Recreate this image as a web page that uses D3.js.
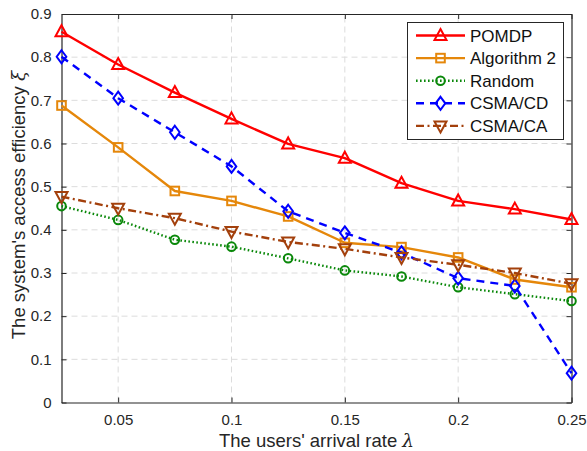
<!DOCTYPE html>
<html>
<head>
<meta charset="utf-8">
<script src="https://cdn.jsdelivr.net/npm/d3@7"></script>
<style>
  html, body { margin: 0; padding: 0; background: #fff; }
  svg { display: block; font-family: "Liberation Sans", Arial, Helvetica, sans-serif; }
</style>
</head>
<body>
<svg id="chart" width="587" height="451"></svg>
<script>
// Arrival rates on the x axis
const lambdas = [0.025, 0.05, 0.075, 0.1, 0.125, 0.15, 0.175, 0.2, 0.225, 0.25];

// Access efficiency per scheme
const pomdp   = [0.859, 0.783, 0.718, 0.657, 0.599, 0.566, 0.508, 0.467, 0.448, 0.424];
const algo2   = [0.688, 0.591, 0.490, 0.467, 0.431, 0.370, 0.360, 0.336, 0.285, 0.267];
const random  = [0.455, 0.423, 0.377, 0.361, 0.334, 0.306, 0.292, 0.267, 0.251, 0.235];
const csmaCD  = [0.801, 0.705, 0.626, 0.547, 0.443, 0.393, 0.347, 0.288, 0.270, 0.068];
const csmaCA  = [0.477, 0.450, 0.427, 0.396, 0.372, 0.356, 0.336, 0.319, 0.300, 0.275];

const xTicks = [0.05, 0.1, 0.15, 0.2, 0.25];
const xTickLabels = ["0.05", "0.1", "0.15", "0.2", "0.25"];
const yTicks = [0, 0.1, 0.2, 0.3, 0.4, 0.5, 0.6, 0.7, 0.8, 0.9];
const yTickLabels = ["0", "0.1", "0.2", "0.3", "0.4", "0.5", "0.6", "0.7", "0.8", "0.9"];

const seriesNames = ["POMDP", "Algorithm 2", "Random", "CSMA/CD", "CSMA/CA"];

const series = [
  { name: seriesNames[0], values: pomdp,  color: "#ff0000", dash: null,          marker: "triUp" },
  { name: seriesNames[1], values: algo2,  color: "#e5870a", dash: null,          marker: "square" },
  { name: seriesNames[2], values: random, color: "#0a880a", dash: "1.6,2.4",     marker: "circle" },
  { name: seriesNames[3], values: csmaCD, color: "#0000ff", dash: "8,6",         marker: "diamond" },
  { name: seriesNames[4], values: csmaCA, color: "#a3400c", dash: "8,3.5,2,3.5", marker: "triDown" }
];

const svg = d3.select("#chart");
const margin = { left: 61.5, right: 15.5, top: 14, bottom: 48.5 };
const W = 587, H = 451;
const x = d3.scaleLinear().domain([0.025, 0.25]).range([margin.left, W - margin.right]);
const y = d3.scaleLinear().domain([0, 0.9]).range([H - margin.bottom, margin.top]);

const axisColor = "#262626";
const x0 = x.range()[0], x1 = x.range()[1];
const y0 = y.range()[0], y1 = y.range()[1];

// grid lines
const grid = svg.append("g").attr("class", "grid");
grid.selectAll("line.gx").data(xTicks.filter(t => t < 0.25)).join("line")
  .attr("x1", d => x(d)).attr("x2", d => x(d))
  .attr("y1", y0).attr("y2", y1)
  .attr("stroke", "#dcdcdc").attr("stroke-width", 1).attr("stroke-dasharray", "6,4");
grid.selectAll("line.gy").data(yTicks.filter(t => t > 0 && t < 0.9)).join("line")
  .attr("x1", x0).attr("x2", x1)
  .attr("y1", d => y(d)).attr("y2", d => y(d))
  .attr("stroke", "#dcdcdc").attr("stroke-width", 1).attr("stroke-dasharray", "6,4");

// axes (ticks point inward)
const fmtX = d => xTickLabels[xTicks.indexOf(d)];
const fmtY = d => yTickLabels[yTicks.indexOf(d)];

function styleAxis(g) {
  g.selectAll("path.domain").attr("stroke", axisColor).attr("stroke-width", 1.2);
  g.selectAll(".tick line").attr("stroke", axisColor).attr("stroke-width", 1);
  g.selectAll(".tick text").attr("fill", axisColor).style("font-size", "15px")
    .style("font-family", "'Liberation Sans', Arial, sans-serif");
}

svg.append("g").attr("transform", `translate(0,${y0})`)
  .call(d3.axisBottom(x).tickValues(xTicks).tickFormat(fmtX).tickSizeInner(-5).tickSizeOuter(0).tickPadding(12))
  .call(styleAxis);
svg.append("g").attr("transform", `translate(0,${y1})`)
  .call(d3.axisTop(x).tickValues(xTicks).tickFormat("").tickSizeInner(-5).tickSizeOuter(0))
  .call(styleAxis);
svg.append("g").attr("transform", `translate(${x0},0)`)
  .call(d3.axisLeft(y).tickValues(yTicks).tickFormat(fmtY).tickSizeInner(-5).tickSizeOuter(0).tickPadding(10))
  .call(styleAxis);
svg.append("g").attr("transform", `translate(${x1},0)`)
  .call(d3.axisRight(y).tickValues(yTicks).tickFormat("").tickSizeInner(-5).tickSizeOuter(0))
  .call(styleAxis);

// markers
function drawMarker(g, type, cx, cy, color) {
  const sw = 2;
  if (type === "triUp") {
    g.append("path").attr("d", `M${cx},${cy - 6.5}L${cx + 6},${cy + 4.5}L${cx - 6},${cy + 4.5}Z`)
      .attr("fill", "none").attr("stroke", color).attr("stroke-width", sw);
  } else if (type === "triDown") {
    g.append("path").attr("d", `M${cx},${cy + 6.5}L${cx + 6},${cy - 4.5}L${cx - 6},${cy - 4.5}Z`)
      .attr("fill", "none").attr("stroke", color).attr("stroke-width", sw);
  } else if (type === "square") {
    g.append("rect").attr("x", cx - 4.3).attr("y", cy - 4.3).attr("width", 8.6).attr("height", 8.6)
      .attr("fill", "none").attr("stroke", color).attr("stroke-width", sw);
  } else if (type === "circle") {
    g.append("circle").attr("cx", cx).attr("cy", cy).attr("r", 4.3)
      .attr("fill", "none").attr("stroke", color).attr("stroke-width", sw);
  } else if (type === "diamond") {
    g.append("path").attr("d", `M${cx},${cy - 6.5}L${cx + 4.8},${cy}L${cx},${cy + 6.5}L${cx - 4.8},${cy}Z`)
      .attr("fill", "none").attr("stroke", color).attr("stroke-width", sw);
  }
}

const line = d3.line().x(d => x(d[0])).y(d => y(d[1]));

const plot = svg.append("g").attr("class", "series");
series.forEach(s => {
  const pts = lambdas.map((l, i) => [l, s.values[i]]);
  const g = plot.append("g");
  g.append("path").datum(pts).attr("d", line)
    .attr("fill", "none").attr("stroke", s.color).attr("stroke-width", 2.4)
    .attr("stroke-dasharray", s.dash).attr("stroke-linejoin", "round");
  pts.forEach(p => drawMarker(g, s.marker, x(p[0]), y(p[1]), s.color));
});

// axis titles
svg.append("text")
  .attr("x", (x0 + x1) / 2).attr("y", 447)
  .attr("text-anchor", "middle").attr("fill", axisColor).style("font-size", "18.5px")
  .html("The users' arrival rate <tspan font-style='italic' font-family='DejaVu Serif, serif'>λ</tspan>");

svg.append("text")
  .attr("transform", `translate(25,205) rotate(-90)`)
  .attr("text-anchor", "middle").attr("fill", axisColor).style("font-size", "18.5px")
  .html("The system's access efficiency <tspan font-style='italic' font-family='DejaVu Serif, serif'>ξ</tspan>");

// legend
const lg = svg.append("g").attr("class", "legend");
const lx = 407.5, ly = 22.5, lw = 156, lh = 117;
lg.append("rect").attr("x", lx).attr("y", ly).attr("width", lw).attr("height", lh)
  .attr("fill", "#fff").attr("stroke", "#262626").attr("stroke-width", 1);
series.forEach((s, i) => {
  const cy = 35.5 + i * 22.6;
  lg.append("line").attr("x1", 416).attr("x2", 465).attr("y1", cy).attr("y2", cy)
    .attr("stroke", s.color).attr("stroke-width", 2.4).attr("stroke-dasharray", s.dash);
  drawMarker(lg, s.marker, 440.5, cy, s.color);
  lg.append("text").attr("x", 470).attr("y", cy + 6).attr("fill", "#111")
    .style("font-size", "17px").text(s.name);
});
</script>
</body>
</html>
